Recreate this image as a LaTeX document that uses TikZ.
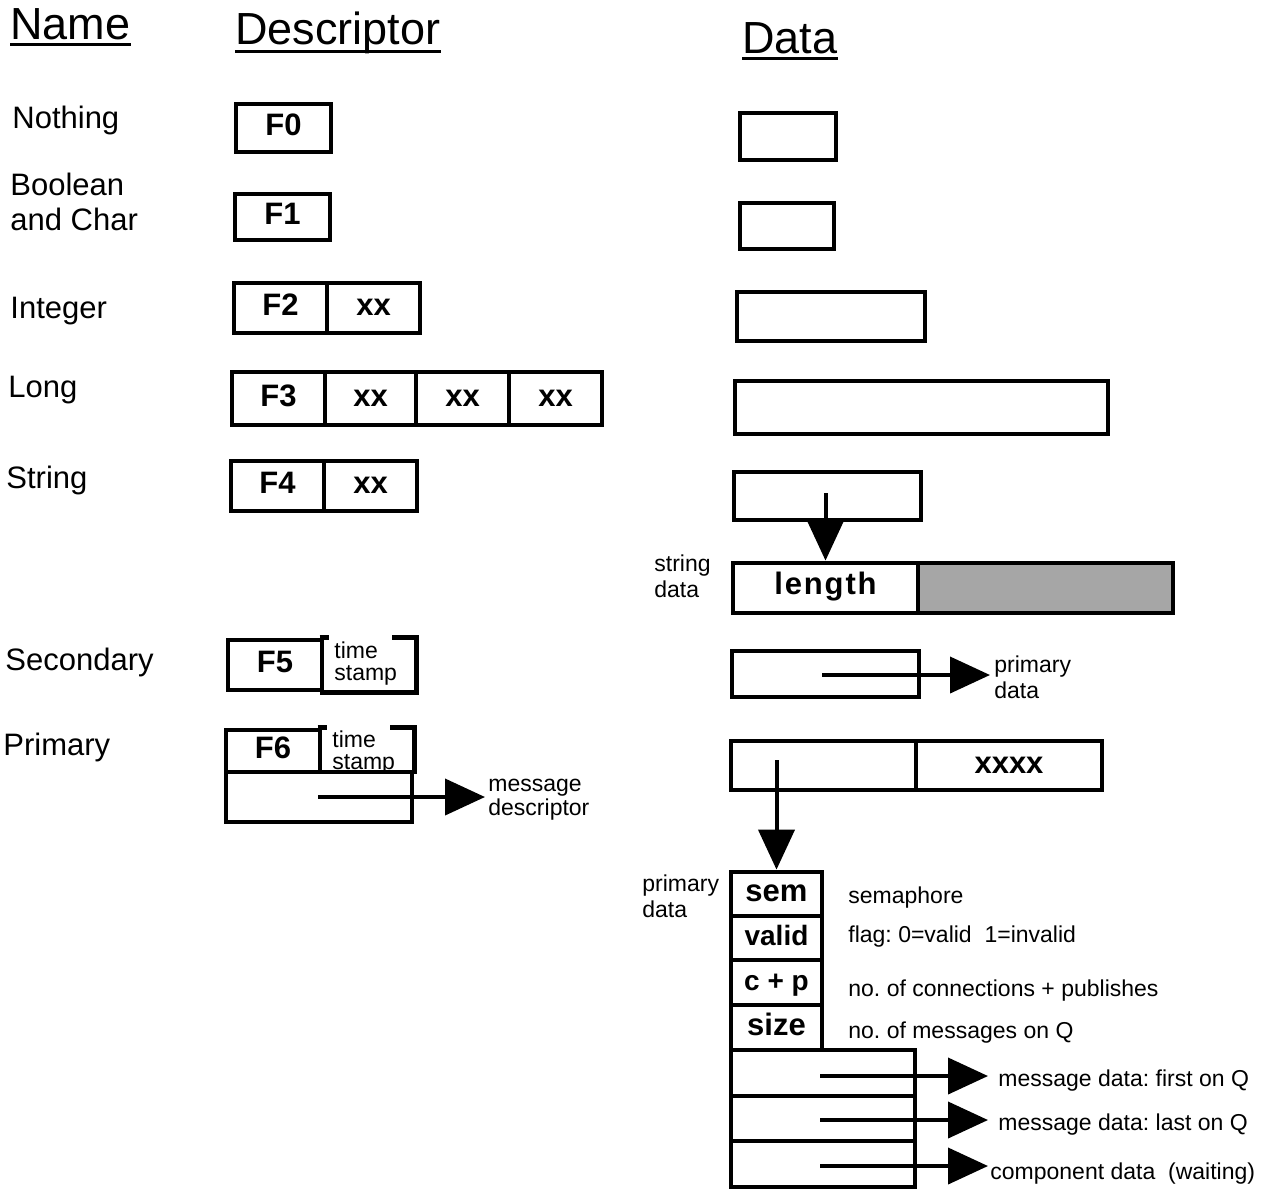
\documentclass[tikz,border=0pt]{standalone}
\usepackage{fontspec}
\setmainfont{Liberation Sans}
\usetikzlibrary{arrows.meta}
\frenchspacing
\newcommand\fsz[2]{\fontsize{#1}{#2}\selectfont}
% [options]{x1}{y1}{x2}{y2}{name} -- box in pixel coordinates
\newcommand\cellat[6][]{\node[cell,#1,minimum width={(#4-#2)*0.5pt},minimum height={(#5-#3)*0.5pt}] (#6) at ({(#2+#4)/2},{(#3+#5)/2})}
\begin{document}
\begin{tikzpicture}[x=0.5pt,y=-0.5pt,
  bord/.style={line width=2.4pt},
  cell/.style={draw,line width=2.4pt,inner sep=0pt,text height=10pt,text depth=2.5pt,font=\bfseries\fsz{15.5}{16}},
  ttl/.style={inner sep=0pt,anchor=base west,font=\fsz{22.5}{26}},
  nm/.style={inner sep=0pt,anchor=base west,align=left,font=\fsz{15.5}{17.5}},
  sm/.style={inner sep=0pt,anchor=base west,align=left,font=\fsz{11.5}{13}},
  arr/.style={line width=2pt,-{Triangle[length=20pt,width=18pt]}},
  uline/.style={line width=1.5pt}]
\useasboundingbox (0,0) rectangle (1267,1190);

% titles
\node[ttl] (tname) at (10,39) {Name};
\node[ttl] (tdesc) at (235,44) {Descriptor};
\node[ttl] (tdata) at (742,53) {Data};
\draw[uline] ([yshift=-2.5pt]tname.base west) -- ([yshift=-2.5pt]tname.base east);
\draw[uline] ([yshift=-3.5pt]tdesc.base west) -- ([yshift=-3.5pt]tdesc.base east);
\draw[uline] ([yshift=-2.5pt]tdata.base west) -- ([yshift=-2.5pt]tdata.base east);

% names
\node[nm] (nnothing) at (12,128) {Nothing};
\node[nm] (nbool) at (10,230) {Boolean\\and Char};
\node[nm] (nint) at (10,318) {Integer};
\node[nm] (nlong) at (8,397) {Long};
\node[nm] (nstring) at (6,488) {String};
\node[nm] (nsec) at (5,670) {Secondary};
\node[nm] (nprim) at (3,755) {Primary};

% descriptors
\cellat{236}{104}{331}{152}{f0} {F0};
\cellat{235}{194}{330}{240}{f1} {F1};
\cellat{234}{283}{327}{333}{f2} {F2};
\cellat{327}{283}{420}{333}{f2x} {xx};
\cellat{232}{372}{325}{425}{f3} {F3};
\cellat{325}{372}{416}{425}{f3a} {xx};
\cellat{416}{372}{509}{425}{f3b} {xx};
\cellat{509}{372}{602}{425}{f3c} {xx};
\cellat{231}{461}{324}{511}{f4} {F4};
\cellat{324}{461}{417}{511}{f4x} {xx};

\cellat{228}{640}{322}{690}{f5} {F5};
\cellat[draw=none]{322}{640}{414}{690}{ts5} {};
\draw[bord] (ts5.north west) -- ++(9,0);
\draw[bord] ([xshift=-12pt]ts5.north east) -- (ts5.north east) -- (ts5.south east) -- (ts5.south west);
\node[sm,font=\fsz{11.5}{11}] (ts5t) at (334,680) {time\\stamp};

\cellat{226}{730}{320}{772}{f6} {F6};
\cellat[draw=none]{320}{730}{412}{772}{ts6} {};
\draw[bord] (ts6.north west) -- ++(9,0);
\draw[bord] ([xshift=-12pt]ts6.north east) -- (ts6.north east) -- (ts6.south east);
\node[sm,font=\fsz{11.5}{11}] (ts6t) at (332,769) {time\\stamp};
\cellat{226}{772}{412}{822}{b6} {};
\node[sm,font=\fsz{11.5}{12}] (md) at (488,815) {message\\descriptor};
\coordinate (a6) at (318,797);
\draw[arr,shorten >=1.5pt] (a6) -- (a6 -| md.west);

% data
\cellat{740}{113}{836}{160}{d0} {};
\cellat{740}{203}{834}{249}{d1} {};
\cellat{737}{292}{925}{341}{d2} {};
\cellat{735}{381}{1108}{434}{d3} {};
\cellat{734}{472}{921}{520}{d4} {};
\cellat[text depth=4pt]{733}{563}{918}{613}{len} {\addfontfeature{LetterSpace=6}length};
\cellat[fill=black!35]{918}{563}{1173}{613}{sdat} {};
\node[sm] (sdl) at (654,597) {string\\data};
\coordinate (a4) at (825.5,493);
\draw[arr] (a4) -- (len.north);

\cellat{732}{651}{919}{697}{d5} {};
\node[sm] (pd1) at (994,698) {primary\\data};
\coordinate (a5) at (822,675);
\draw[arr,shorten >=2pt] (a5) -- (a5 -| pd1.west);

\cellat{731}{741}{916}{790}{d6} {};
\cellat{916}{741}{1102}{790}{d6x} {xxxx};

% primary data stack
\node[sm] (pd2) at (642,917) {primary\\data};
\cellat{731}{872}{822}{916}{sem} {sem};
\cellat[font=\bfseries\fsz{14}{14}]{731}{916}{822}{960}{valid} {valid};
\cellat[font=\bfseries\fsz{14}{14}]{731}{960}{822}{1005}{cp} {c + p};
\cellat{731}{1005}{822}{1050}{size} {size};
\cellat{731}{1050}{915}{1096}{q1} {};
\cellat{731}{1096}{915}{1141}{q2} {};
\cellat{731}{1141}{915}{1187}{q3} {};
\coordinate (a7) at (776.5,760);
\draw[arr] (a7) -- (sem.north);

\node[sm] (lsem) at (848,903) {semaphore};
\node[sm] (lvalid) at (848,942) {flag: 0=valid\ \ 1=invalid};
\node[sm] (lcp) at (848,996) {no. of connections + publishes};
\node[sm] (lsize) at (848,1038) {no. of messages on Q};
\node[sm] (m1) at (998,1086) {message data: first on Q};
\node[sm] (m2) at (998,1130) {message data: last on Q};
\node[sm] (m3) at (990,1179) {component data\ \ (waiting)};

\coordinate (s1) at (820,1076);
\coordinate (s2) at (820,1120);
\coordinate (s3) at (820,1166);
\draw[arr,shorten >=5pt] (s1) -- (s1 -| m1.west);
\draw[arr,shorten >=5pt] (s2) -- (s2 -| m2.west);
\draw[arr,shorten >=1pt] (s3) -- (s3 -| m3.west);
\end{tikzpicture}
\end{document}
